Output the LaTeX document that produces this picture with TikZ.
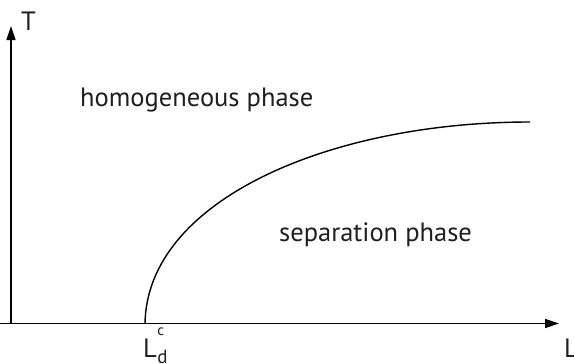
\documentclass[tikz,border=0pt]{standalone}
\usepackage{fontspec}
\setmainfont{PT Sans}
\usetikzlibrary{arrows.meta}
\begin{document}
\begin{tikzpicture}[x=1pt,y=-1pt,
  axis/.style={line width=1.4pt,-{Triangle[length=14pt,width=9pt]}},
  curve/.style={line width=1.4pt},
  lab/.style={inner sep=0pt,anchor=base west,font=\fontsize{26.5}{30}\selectfont,text=black!88}]
\useasboundingbox (0,0) rectangle (574,364);
\coordinate (O) at (11,323.5);
\coordinate (xend) at (559,323.5);
\coordinate (yend) at (11,26);
\coordinate (xstart) at (0,323.5);
\draw[axis] (xstart) -- (xend);
\draw[axis] (O) -- (yend);
\coordinate (c0) at (145,323.5);
\coordinate (c1) at (530,122);
\draw[curve] (c0) .. controls (147,200) and (330,122) .. (c1);
\node[lab] (T) at (21,30.5) {T};
\node[lab] (L) at (564,357) {L};
\node[lab] (Ld) at (143,357) {L\hspace{0.5pt}\rlap{\raisebox{22pt}{\fontsize{15}{15}\selectfont c}}\raisebox{-6pt}{\fontsize{19}{19}\selectfont d}};
\node[lab] (hom) at (80,106) {homogeneous phase};
\node[lab] (sep) at (279,241) {separation phase};
\end{tikzpicture}
\end{document}
